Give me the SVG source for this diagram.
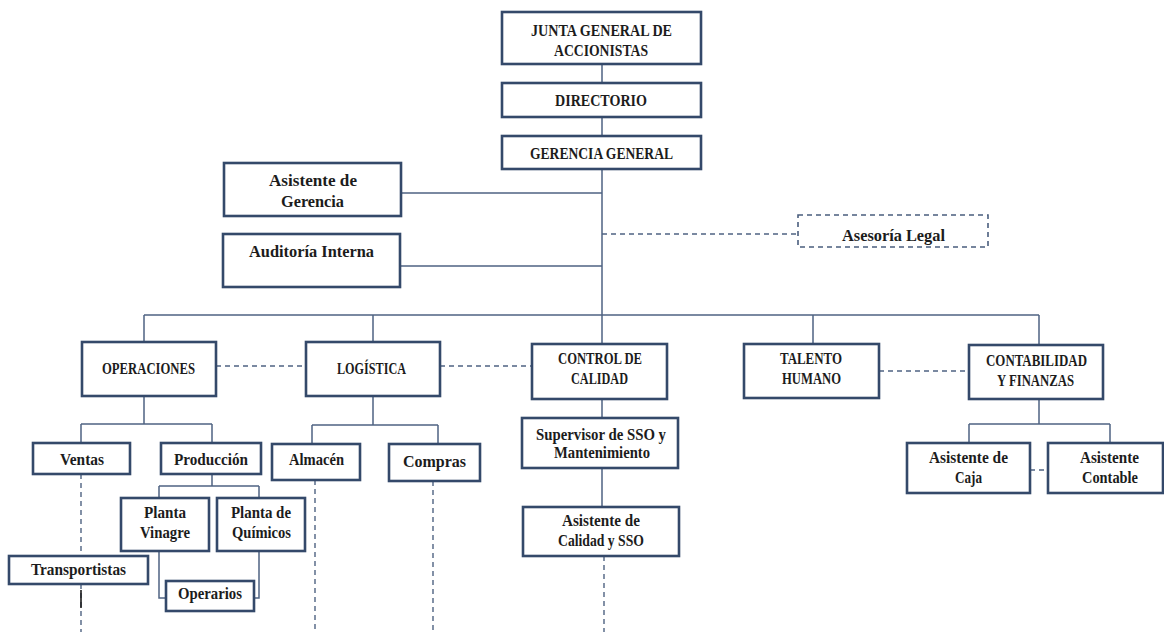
<svg xmlns="http://www.w3.org/2000/svg" width="1164" height="632" viewBox="0 0 1164 632">
  <style>
    .box { fill: #ffffff; stroke: #34496a; stroke-width: 2.6; }
    .dbox { fill: #ffffff; stroke: #4a5e7e; stroke-width: 1.6; stroke-dasharray: 5 4; }
    .ln { fill: none; stroke: #4f6382; stroke-width: 1.5; }
    .dash { fill: none; stroke: #4f6382; stroke-width: 1.4; stroke-dasharray: 5 4; }
    text { font-family: "Liberation Serif", "DejaVu Serif", serif; font-weight: bold; font-size: 16px; fill: #1c1c1c; text-anchor: middle; }
    text.cap { font-size: 17px; }
  </style>
  <rect width="1164" height="632" fill="#ffffff"/>

  <!-- connectors -->
  <g id="connectors">
    <!-- main spine -->
    <path class="ln" d="M602 64 V83 M602 117 V136 M602 169 V315"/>
    <path class="ln" d="M401 193 H602 M400 266 H602"/>
    <path class="dash" d="M602 234 H798"/>
    <!-- department bus -->
    <path class="ln" d="M144 315 H1039 M144 315 V342 M373 315 V342 M602 315 V344 M813 315 V344 M1039 315 V345"/>
    <!-- peer links between departments -->
    <path class="dash" d="M216 366 H306 M440 366 H532 M879 371 H969"/>
    <!-- operaciones -->
    <path class="ln" d="M144 396 V424 M81 424 H212 M81 424 V443 M212 424 V443"/>
    <path class="ln" d="M212 474 V486 M159 486 H259 M159 486 V498 M259 486 V498"/>
    <path class="ln" d="M159 551 V598 H166 M259 551 V598 H254"/>
    <path class="dash" d="M81 474 V556 M81 584 V632"/>
    <path d="M81 590 V608" stroke="#1c1c1c" stroke-width="1.6"/>
    <!-- logistica -->
    <path class="ln" d="M373 396 V425 M312 425 H438 M312 425 V444 M438 425 V444"/>
    <path class="dash" d="M315 480 V632 M433 481 V632"/>
    <!-- control de calidad -->
    <path class="ln" d="M602 399 V418 M602 468 V507"/>
    <path class="dash" d="M604 556 V632"/>
    <!-- contabilidad -->
    <path class="ln" d="M1039 399 V424 M969 424 H1110 M969 424 V443 M1110 424 V443"/>
    <path class="dash" d="M1030 470 H1048"/>
  </g>

  <g id="junta">
    <rect class="box" x="502" y="12" width="199" height="52"/>
    <text class="cap" x="601.5" y="36" textLength="141" lengthAdjust="spacingAndGlyphs">JUNTA GENERAL DE</text>
    <text class="cap" x="601" y="56" textLength="94" lengthAdjust="spacingAndGlyphs">ACCIONISTAS</text>
  </g>
  <g id="directorio">
    <rect class="box" x="502" y="83" width="199" height="34"/>
    <text class="cap" x="601" y="106" textLength="92" lengthAdjust="spacingAndGlyphs">DIRECTORIO</text>
  </g>
  <g id="gerencia-general">
    <rect class="box" x="502" y="136" width="199" height="33"/>
    <text class="cap" x="601.5" y="159" textLength="143" lengthAdjust="spacingAndGlyphs">GERENCIA GENERAL</text>
  </g>
  <g id="asistente-gerencia">
    <rect class="box" x="224" y="163" width="177" height="53"/>
    <text x="313" y="186" textLength="88" lengthAdjust="spacingAndGlyphs">Asistente de</text>
    <text x="312.5" y="207" textLength="63" lengthAdjust="spacingAndGlyphs">Gerencia</text>
  </g>
  <g id="auditoria">
    <rect class="box" x="223" y="234" width="177" height="53"/>
    <text x="311.5" y="257" textLength="125" lengthAdjust="spacingAndGlyphs">Auditoría Interna</text>
  </g>
  <g id="asesoria-legal">
    <rect class="dbox" x="798" y="215" width="190" height="32"/>
    <text x="893.5" y="241" textLength="103" lengthAdjust="spacingAndGlyphs">Asesoría Legal</text>
  </g>

  <g id="operaciones">
    <rect class="box" x="82" y="342" width="134" height="54"/>
    <text class="cap" x="148.5" y="374" textLength="93" lengthAdjust="spacingAndGlyphs">OPERACIONES</text>
  </g>
  <g id="logistica">
    <rect class="box" x="306" y="342" width="134" height="54"/>
    <text class="cap" x="371.5" y="374" textLength="69" lengthAdjust="spacingAndGlyphs">LOGÍSTICA</text>
  </g>
  <g id="control-calidad">
    <rect class="box" x="532" y="344" width="135" height="55"/>
    <text class="cap" x="600" y="364" textLength="84" lengthAdjust="spacingAndGlyphs">CONTROL DE</text>
    <text class="cap" x="599.5" y="384" textLength="57" lengthAdjust="spacingAndGlyphs">CALIDAD</text>
  </g>
  <g id="talento-humano">
    <rect class="box" x="744" y="344" width="135" height="54"/>
    <text class="cap" x="811" y="364" textLength="62" lengthAdjust="spacingAndGlyphs">TALENTO</text>
    <text class="cap" x="811.5" y="384" textLength="59" lengthAdjust="spacingAndGlyphs">HUMANO</text>
  </g>
  <g id="contabilidad">
    <rect class="box" x="969" y="345" width="134" height="54"/>
    <text class="cap" x="1036.5" y="366" textLength="101" lengthAdjust="spacingAndGlyphs">CONTABILIDAD</text>
    <text class="cap" x="1035.5" y="386" textLength="77" lengthAdjust="spacingAndGlyphs">Y FINANZAS</text>
  </g>

  <g id="ventas">
    <rect class="box" x="33" y="443" width="97" height="31"/>
    <text x="82" y="465" textLength="44" lengthAdjust="spacingAndGlyphs">Ventas</text>
  </g>
  <g id="produccion">
    <rect class="box" x="161" y="443" width="100" height="31"/>
    <text x="211" y="465" textLength="74" lengthAdjust="spacingAndGlyphs">Producción</text>
  </g>
  <g id="planta-vinagre">
    <rect class="box" x="121" y="498" width="88" height="53"/>
    <text x="165" y="518" textLength="42" lengthAdjust="spacingAndGlyphs">Planta</text>
    <text x="165" y="538" textLength="50" lengthAdjust="spacingAndGlyphs">Vinagre</text>
  </g>
  <g id="planta-quimicos">
    <rect class="box" x="217" y="498" width="88" height="53"/>
    <text x="261" y="518" textLength="60" lengthAdjust="spacingAndGlyphs">Planta de</text>
    <text x="261.5" y="538" textLength="59" lengthAdjust="spacingAndGlyphs">Químicos</text>
  </g>
  <g id="transportistas">
    <rect class="box" x="9" y="556" width="139" height="28"/>
    <text x="78.5" y="575" textLength="95" lengthAdjust="spacingAndGlyphs">Transportistas</text>
  </g>
  <g id="operarios">
    <rect class="box" x="166" y="581" width="88" height="30"/>
    <text x="210" y="599" textLength="64" lengthAdjust="spacingAndGlyphs">Operarios</text>
  </g>

  <g id="almacen">
    <rect class="box" x="272" y="444" width="88" height="36"/>
    <text x="316.5" y="465" textLength="55" lengthAdjust="spacingAndGlyphs">Almacén</text>
  </g>
  <g id="compras">
    <rect class="box" x="389" y="444" width="91" height="37"/>
    <text x="434.5" y="467" textLength="63" lengthAdjust="spacingAndGlyphs">Compras</text>
  </g>

  <g id="supervisor-sso">
    <rect class="box" x="522" y="418" width="156" height="50"/>
    <text x="601" y="440" textLength="130" lengthAdjust="spacingAndGlyphs">Supervisor de SSO y</text>
    <text x="602" y="458" textLength="96" lengthAdjust="spacingAndGlyphs">Mantenimiento</text>
  </g>
  <g id="asistente-calidad">
    <rect class="box" x="523" y="507" width="156" height="49"/>
    <text x="601" y="526" textLength="78" lengthAdjust="spacingAndGlyphs">Asistente de</text>
    <text x="601" y="546" textLength="86" lengthAdjust="spacingAndGlyphs">Calidad y SSO</text>
  </g>

  <g id="asistente-caja">
    <rect class="box" x="907" y="443" width="123" height="50"/>
    <text x="968.5" y="463" textLength="79" lengthAdjust="spacingAndGlyphs">Asistente de</text>
    <text x="968.5" y="483" textLength="27" lengthAdjust="spacingAndGlyphs">Caja</text>
  </g>
  <g id="asistente-contable">
    <rect class="box" x="1048" y="443" width="115" height="50"/>
    <text x="1109.5" y="463" textLength="59" lengthAdjust="spacingAndGlyphs">Asistente</text>
    <text x="1110" y="483" textLength="56" lengthAdjust="spacingAndGlyphs">Contable</text>
  </g>
</svg>
